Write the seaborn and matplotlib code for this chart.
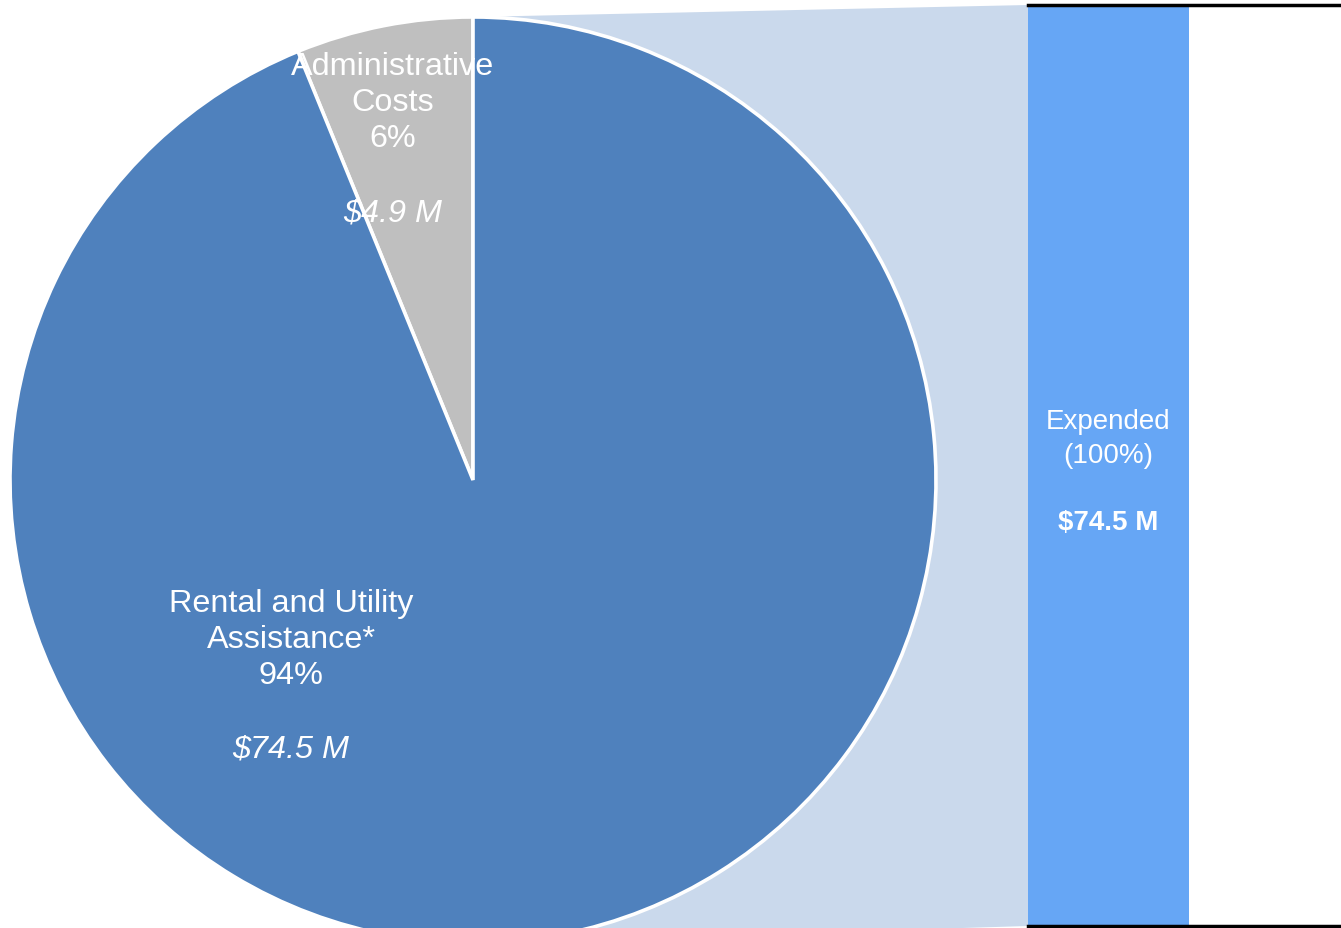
import seaborn as sns
import matplotlib.pyplot as plt
import pandas as pd

# pie slices
slice_names = ["Administrative\nCosts", "Rental and Utility\nAssistance*"]
slice_amounts = [4.9, 74.5]  # $ millions
slice_colors = ["#bfbfbf", "#4f81bd"]

# bar breakdown of the rental slice
bar_names = ["Expended"]
bar_pct = [100]
bar_amounts = [74.5]

sns.set_style("white")
plt.rcParams['font.family'] = ['Liberation Sans', 'DejaVu Sans']

W, H = 1341, 929
fig = plt.figure(figsize=(W / 100, H / 100), dpi=100)

# main axes in pixel units (y up)
ax = fig.add_axes([0, 0, 1, 1])

cx, cy, r = 473, H - 481, 463

# connector to the bar
bar_left, bar_top, bar_bot = 1028, H - 6, H - 927
ax.fill([cx, bar_left, bar_left, cx], [cy + r, bar_top, bar_bot, cy - r],
        color="#cad9ec", lw=0, zorder=0)

ax.pie(slice_amounts, colors=slice_colors, startangle=90, counterclock=True,
       center=(cx, cy), radius=r, frame=True,
       wedgeprops=dict(edgecolor="white", linewidth=2.6))
ax.set_xlim(0, W)
ax.set_ylim(0, H)
ax.set_aspect("equal")
ax.axis("off")

total = sum(slice_amounts)
pcts = [round(a / total * 100) for a in slice_amounts]

label_pos = [(393, 103, 213), (291, 640, 750)]
for name, p, amt, (x, y, y2) in zip(slice_names, pcts, slice_amounts, label_pos):
    ax.text(x, H - y, f"{name}\n{p}%", ha="center", va="center",
            color="white", fontsize=23.3, linespacing=1.26)
    ax.text(x, H - y2, f"${amt} M", ha="center", va="center",
            color="white", fontsize=23.3, style="italic")

# bar axes
bx = fig.add_axes([bar_left / W, (H - 927) / H, (W - bar_left) / W, (927 - 6) / H])
df = pd.DataFrame({"name": bar_names, "pct": bar_pct})
sns.barplot(data=df, x="name", y="pct", color="#66a6f5", saturation=1,
            width=0.8, linewidth=0, ax=bx)
bx.set_xlim(-0.4, -0.4 + 0.8 * (W - bar_left) / (1189 - bar_left))
bx.set_ylim(0, 100)
bx.set_xlabel("")
bx.set_ylabel("")
bx.set_xticks([])
bx.set_yticks([])
for s in ["left", "right"]:
    bx.spines[s].set_visible(False)
for s in ["top", "bottom"]:
    bx.spines[s].set_color("black")
    bx.spines[s].set_linewidth(2.5)

for i, (n, p, a) in enumerate(zip(bar_names, bar_pct, bar_amounts)):
    bx.text(i, 100 * (929 - 439 - 2) / 921, f"{n}\n({p}%)", ha="center", va="center",
            color="white", fontsize=20, linespacing=1.36)
    bx.text(i, 100 * (929 - 523 - 2) / 921, f"${a} M", ha="center", va="center",
            color="white", fontsize=20, fontweight="bold")

fig.savefig("out.png", dpi=100)
